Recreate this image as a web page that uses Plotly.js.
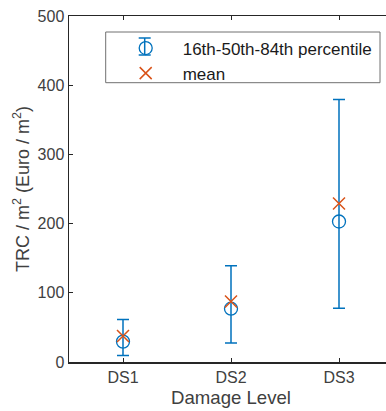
<!DOCTYPE html>
<html>
<head>
<meta charset="utf-8">
<script src="https://cdn.plot.ly/plotly-3.0.1.min.js"></script>
<style>
html,body{margin:0;padding:0;overflow:hidden;background:#fff;width:386px;height:411px;}
#chart{width:400px;height:411px;}
</style>
</head>
<body>
<div id="chart"></div>
<script>
const categories = ['DS1', 'DS2', 'DS3'];
const p16 = [9.5, 27.5, 77.5];
const p50 = [29.5, 77, 203];
const p84 = [61.5, 139, 379.5];
const meanVals = [37.5, 87.5, 229];
const yTicks = [0, 100, 200, 300, 400, 500];
const seriesNames = ['16th-50th-84th percentile', 'mean'];

const blue = '#0072BD';
const orange = '#D95319';
const axisColor = '#262626';

// plot area in pixels (for legend decoration placement)
const L = 69, R = 393, T = 16, B = 362;
const px = v => (v - L) / (R - L);
const py = v => (B - v) / (B - T);

const pad = '\u2002\u2002';

const traces = [
  {
    type: 'scatter', mode: 'markers',
    x: categories, y: p50,
    name: pad + seriesNames[0],
    marker: {symbol: 'circle-open', size: 13, color: blue, line: {width: 1.3, color: blue}},
    error_y: {
      type: 'data', symmetric: false,
      array: p84.map((v, i) => v - p50[i]),
      arrayminus: p50.map((v, i) => v - p16[i]),
      color: blue, thickness: 1.5, width: 6
    }
  },
  {
    type: 'scatter', mode: 'markers',
    x: categories, y: meanVals,
    name: pad + seriesNames[1],
    marker: {symbol: 'x-thin-open', size: 12, color: orange, line: {width: 1.5, color: orange}}
  }
];

// legend frame and the error-bar glyph of the first legend entry
const legSymX = 144.7, legSymY = 46.5;
const shapes = [
  {type: 'rect', xref: 'paper', yref: 'paper', layer: 'above',
   x0: px(105.7), x1: px(380), y0: py(82.7), y1: py(32),
   fillcolor: '#fff', line: {color: '#707070', width: 1}},
  {type: 'line', xref: 'paper', yref: 'paper', layer: 'above',
   x0: px(legSymX), x1: px(legSymX), y0: py(legSymY - 8.5), y1: py(legSymY + 8.5),
   line: {color: blue, width: 1.5}},
  {type: 'line', xref: 'paper', yref: 'paper', layer: 'above',
   x0: px(legSymX - 6), x1: px(legSymX + 6), y0: py(legSymY - 8.5), y1: py(legSymY - 8.5),
   line: {color: blue, width: 1.5}},
  {type: 'line', xref: 'paper', yref: 'paper', layer: 'above',
   x0: px(legSymX - 6), x1: px(legSymX + 6), y0: py(legSymY + 8.5), y1: py(legSymY + 8.5),
   line: {color: blue, width: 1.5}}
];

const layout = {
  width: 400, height: 411,
  margin: {l: 69, r: 7, t: 16, b: 49},
  paper_bgcolor: '#fff', plot_bgcolor: '#fff',
  font: {family: 'Liberation Sans, Arial, sans-serif', size: 16, color: axisColor},
  showlegend: true,
  legend: {
    x: px(legSymX - 19), xanchor: 'left', y: py(30.5), yanchor: 'top',
    bgcolor: 'rgba(0,0,0,0)', borderwidth: 0,
    font: {size: 17, color: '#1a1a1a'}
  },
  shapes: shapes,
  xaxis: {
    type: 'category', categoryorder: 'array', categoryarray: categories,
    range: [-0.5, 2.5],
    showline: true, linecolor: axisColor, linewidth: 1.5, mirror: 'ticks',
    ticks: 'inside', ticklen: 4, tickwidth: 1, tickcolor: axisColor,
    showgrid: false, zeroline: false,
    tickfont: {size: 16, color: '#404040'},
    title: {text: 'Damage Level', font: {size: 18.6, color: '#404040'}, standoff: 6}
  },
  yaxis: {
    range: [0, 500], tickvals: yTicks, ticktext: yTicks.map(String),
    showline: true, linecolor: axisColor, linewidth: 1.5, mirror: 'ticks',
    ticks: 'inside', ticklen: 4, tickwidth: 1, tickcolor: axisColor,
    showgrid: false, zeroline: false,
    tickfont: {size: 16, color: '#404040'},
    title: {text: 'TRC / m<sup>2</sup> (Euro / m<sup>2</sup>)', font: {size: 18, color: '#404040'}, standoff: 3}
  }
};

Plotly.newPlot('chart', traces, layout, {displayModeBar: false, staticPlot: true});
</script>
</body>
</html>
